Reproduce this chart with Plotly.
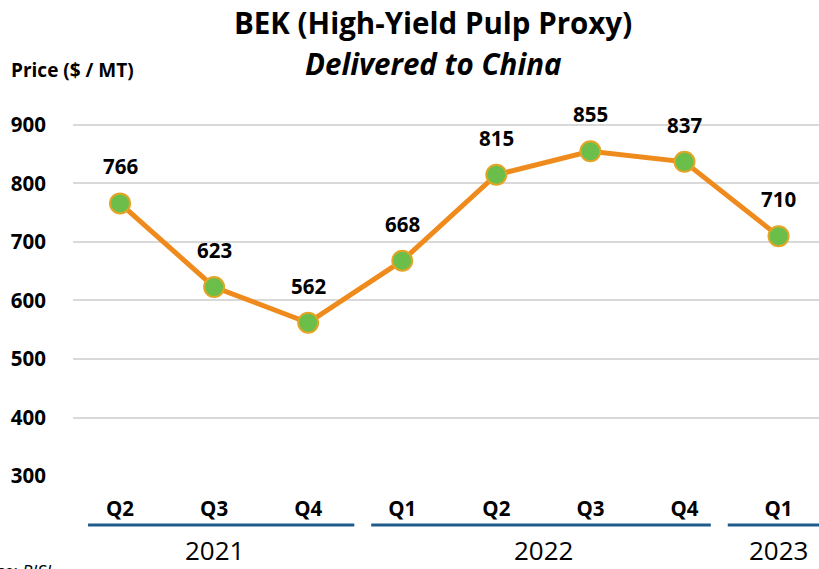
import plotly.graph_objects as go

quarters = ["Q2", "Q3", "Q4", "Q1", "Q2", "Q3", "Q4", "Q1"]
prices = [766, 623, 562, 668, 815, 855, 837, 710]
years = ["2021", "2022", "2023"]
year_spans = [(0, 2), (3, 6), (7, 7)]
yticks = [300, 400, 500, 600, 700, 800, 900]

xs = list(range(len(quarters)))
FONT = "'Open Sans', sans-serif"

fig = go.Figure()
fig.add_trace(go.Scatter(
    x=xs, y=prices, mode="lines+markers",
    line=dict(color="#EF8A1C", width=5),
    marker=dict(size=20, color="#6CBE4B", line=dict(color="#E2A526", width=2)),
    hoverinfo="skip", showlegend=False,
))

for x, p in zip(xs, prices):
    fig.add_annotation(x=x, y=p, text=f"<b>{p}</b>", showarrow=False,
                       yshift=37, yanchor="middle",
                       font=dict(size=20.5, color="black", family=FONT))

# year group lines and labels
starts = [-0.34, 2.67, 6.46]
ends = [2.49, 6.28, 7.5]
for (a, b), yr, s, e in zip(year_spans, years, starts, ends):
    fig.add_shape(type="line", xref="x", yref="paper", x0=s, x1=e,
                  y0=-0.13, y1=-0.13, line=dict(color="#1F5C8C", width=3))
    fig.add_annotation(x=(a + b) / 2, xref="x", yref="paper", y=-0.197,
                       yanchor="middle", xanchor="center",
                       text=yr, showarrow=False,
                       font=dict(size=26, color="black", family=FONT))

fig.add_annotation(xref="paper", yref="paper", x=-0.086, y=1.08,
                   xanchor="left", yanchor="middle",
                   text="<b>Price ($ / MT)</b>", showarrow=False,
                   font=dict(size=19, color="black", family=FONT))
fig.add_annotation(xref="paper", yref="paper", x=0.483, y=1.205,
                   xanchor="center", yanchor="middle",
                   text="<b>BEK (High-Yield Pulp Proxy)</b>",
                   showarrow=False, font=dict(size=29.5, color="black", family=FONT))
fig.add_annotation(xref="paper", yref="paper", x=0.483, y=1.096,
                   xanchor="center", yanchor="middle",
                   text="<b><i>Delivered to China</i></b>",
                   showarrow=False, font=dict(size=29.5, color="black", family=FONT))
fig.add_annotation(xref="paper", yref="paper", x=-0.027, y=-0.215, xanchor="right",
                   yanchor="top", text="<i>Source: RISI</i>", showarrow=False,
                   font=dict(size=18, color="black", family=FONT))

fig.update_layout(
    width=819, height=569,
    margin=dict(l=73, r=0, t=100, b=93),
    paper_bgcolor="white", plot_bgcolor="white",
    font=dict(family=FONT, color="black"),
    xaxis=dict(range=[-0.5, 7.43], tickvals=xs,
               ticktext=[f"<b>{q}</b>" for q in quarters],
               tickfont=dict(size=20.5), showgrid=False, zeroline=False,
               showline=False, ticks="", ticklabelstandoff=18),
    yaxis=dict(range=[300, 942.7], tickvals=yticks,
               ticktext=[f"<b>{t}</b>" for t in yticks],
               tickfont=dict(size=20.5), showgrid=True, gridcolor="#D9D9D9",
               gridwidth=1.5, zeroline=False, showline=False, ticks="",
               ticklabelstandoff=26),
)

fig.write_html("out.html", config={"displayModeBar": False},
               post_script="document.body.style.margin='0px';")
